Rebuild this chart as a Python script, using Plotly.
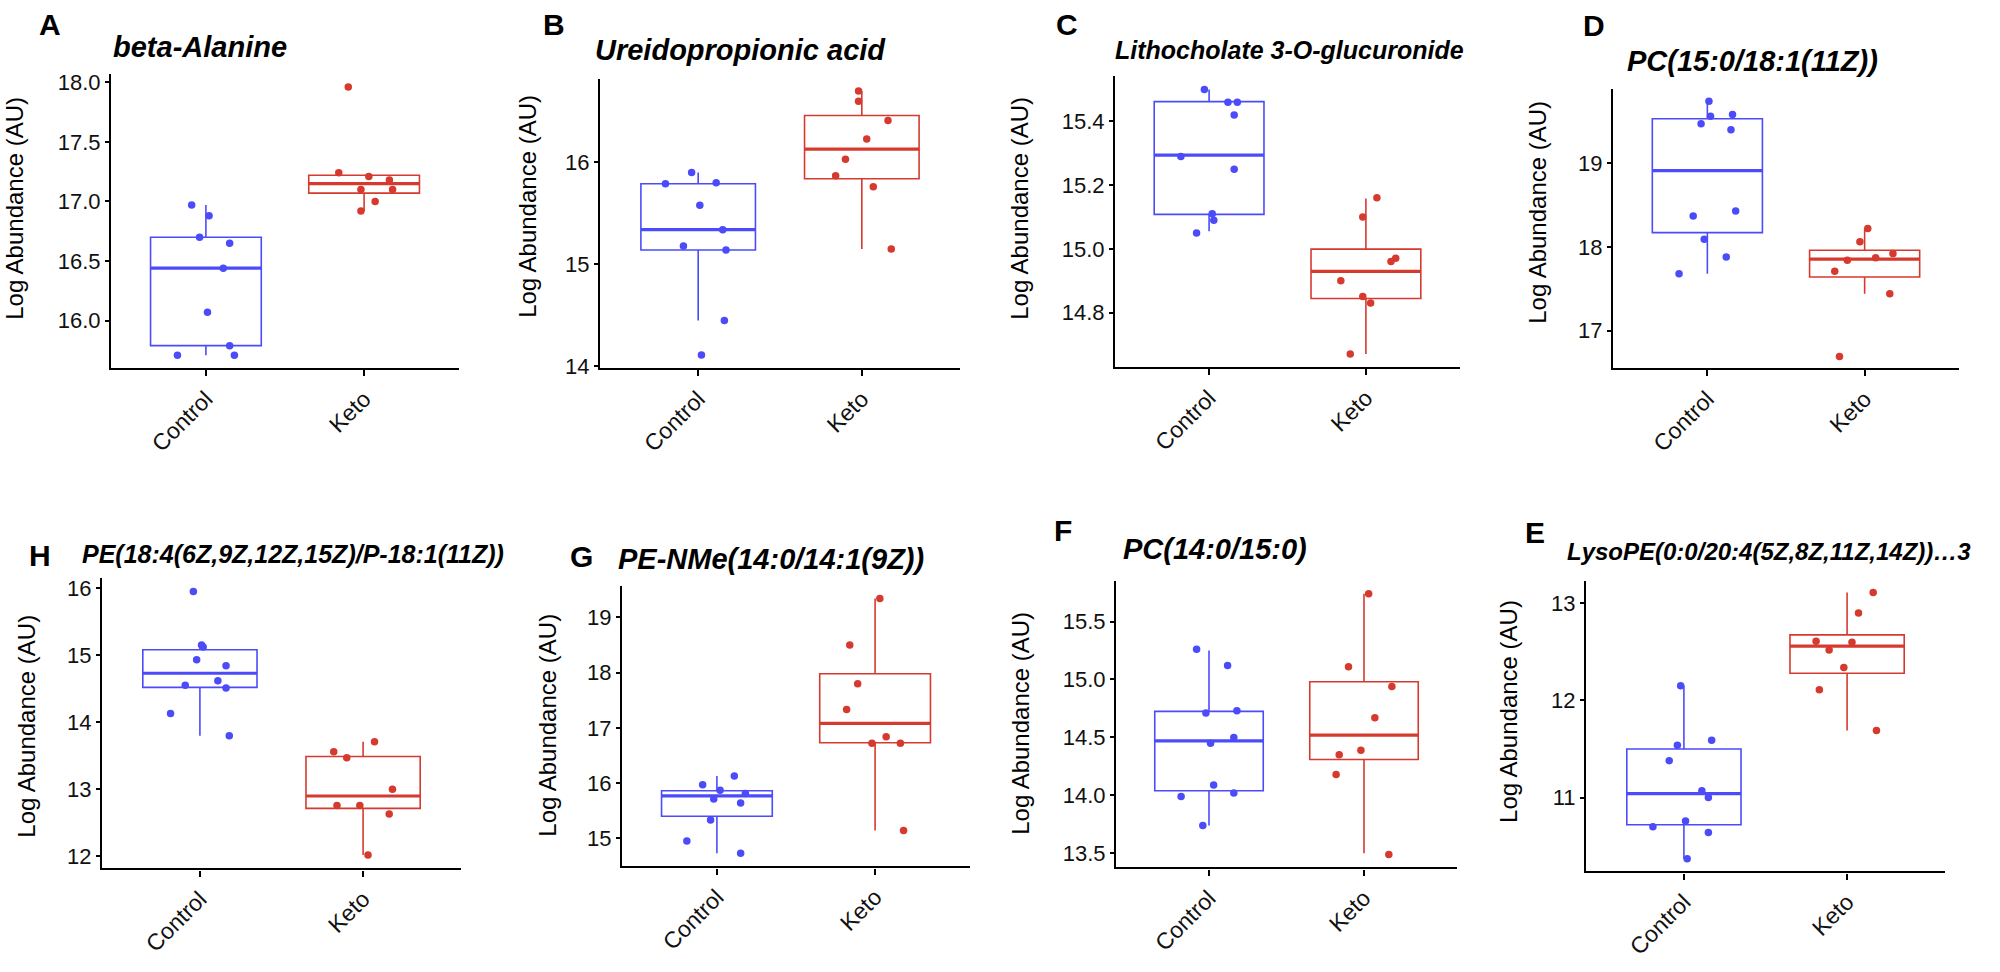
import plotly.graph_objects as go

# ---------------- data ----------------
categories = ["Control", "Keto"]
panel_letters = ["A", "B", "C", "D", "H", "G", "F", "E"]
panel_titles = [
    "beta-Alanine",
    "Ureidopropionic acid",
    "Lithocholate 3-O-glucuronide",
    "PC(15:0/18:1(11Z))",
    "PE(18:4(6Z,9Z,12Z,15Z)/P-18:1(11Z))",
    "PE-NMe(14:0/14:1(9Z))",
    "PC(14:0/15:0)",
    "LysoPE(0:0/20:4(5Z,8Z,11Z,14Z))…3",
]

# individual samples (log abundance) and horizontal jitter offsets
ctrl_A = [16.97, 16.88, 16.70, 16.65, 16.44, 16.07, 15.79, 15.71, 15.71]
ctrl_A_jit = [-0.09, 0.02, -0.04, 0.15, 0.11, 0.01, 0.15, -0.18, 0.18]
keto_A = [17.96, 17.24, 17.21, 17.18, 17.10, 17.10, 17.00, 16.92]
keto_A_jit = [-0.10, -0.16, 0.03, 0.16, -0.02, 0.18, 0.07, -0.02]

ctrl_B = [15.90, 15.79, 15.80, 15.58, 15.34, 15.18, 15.14, 14.45, 14.11]
ctrl_B_jit = [-0.04, -0.20, 0.11, 0.01, 0.15, -0.09, 0.17, 0.16, 0.02]
keto_B = [16.70, 16.60, 16.41, 16.23, 16.03, 15.87, 15.76, 15.15]
keto_B_jit = [-0.02, -0.02, 0.16, 0.03, -0.10, -0.16, 0.07, 0.18]

ctrl_C = [15.50, 15.46, 15.46, 15.42, 15.29, 15.25, 15.11, 15.09, 15.05]
ctrl_C_jit = [-0.03, 0.12, 0.18, 0.16, -0.18, 0.16, 0.02, 0.03, -0.08]
keto_C = [15.16, 15.10, 14.97, 14.96, 14.90, 14.85, 14.83, 14.67]
keto_C_jit = [0.07, -0.02, 0.19, 0.16, -0.16, -0.02, 0.03, -0.10]

ctrl_D = [19.74, 19.56, 19.58, 19.47, 19.40, 18.43, 18.37, 18.09, 17.88, 17.68]
ctrl_D_jit = [0.01, 0.02, 0.16, -0.04, 0.15, 0.18, -0.09, -0.02, 0.12, -0.18]
keto_D = [18.22, 18.06, 17.92, 17.87, 17.84, 17.71, 17.44, 16.69]
keto_D_jit = [0.02, -0.03, 0.18, 0.07, -0.11, -0.19, 0.16, -0.16]

ctrl_H = [15.95, 15.15, 15.12, 14.93, 14.84, 14.55, 14.62, 14.51, 14.13, 13.80]
ctrl_H_jit = [-0.04, 0.01, 0.02, -0.02, 0.16, -0.09, 0.11, 0.16, -0.18, 0.18]
keto_H = [13.71, 13.56, 13.47, 13.00, 12.76, 12.76, 12.63, 12.02]
keto_H_jit = [0.07, -0.18, -0.10, 0.18, -0.16, -0.02, 0.16, 0.03]

ctrl_G = [16.13, 15.97, 15.87, 15.81, 15.71, 15.64, 15.33, 14.95, 14.73]
ctrl_G_jit = [0.11, -0.09, 0.02, 0.18, -0.02, 0.15, -0.04, -0.19, 0.15]
keto_G = [19.34, 18.50, 17.80, 17.33, 16.84, 16.72, 16.72, 15.14]
keto_G_jit = [0.03, -0.16, -0.11, -0.18, 0.07, -0.02, 0.16, 0.18]

ctrl_F = [15.26, 15.12, 14.71, 14.73, 14.45, 14.50, 14.09, 13.99, 14.02, 13.74]
ctrl_F_jit = [-0.08, 0.12, -0.02, 0.18, 0.01, 0.16, 0.03, -0.18, 0.16, -0.04]
keto_F = [15.74, 15.11, 14.94, 14.67, 14.39, 14.35, 14.18, 13.49]
keto_F_jit = [0.03, -0.10, 0.18, 0.07, -0.02, -0.16, -0.18, 0.16]

ctrl_E = [12.15, 11.54, 11.59, 11.38, 11.07, 11.00, 10.76, 10.70, 10.64, 10.37]
ctrl_E_jit = [-0.02, -0.04, 0.17, -0.09, 0.11, 0.15, 0.01, -0.19, 0.15, 0.02]
keto_E = [13.11, 12.90, 12.61, 12.60, 12.52, 12.34, 12.11, 11.69]
keto_E_jit = [0.16, 0.07, -0.19, 0.03, -0.11, -0.02, -0.17, 0.18]

# box statistics: [lower whisker, Q1, median, Q3, upper whisker]
ctrl_A_box = [15.71, 15.79, 16.44, 16.70, 16.97]
keto_A_box = [16.92, 17.07, 17.15, 17.22, 17.22]
ctrl_B_box = [14.45, 15.14, 15.34, 15.79, 15.90]
keto_B_box = [15.15, 15.84, 16.13, 16.46, 16.70]
ctrl_C_box = [15.055, 15.108, 15.294, 15.462, 15.50]
keto_C_box = [14.67, 14.844, 14.929, 14.999, 15.158]
ctrl_D_box = [17.68, 18.17, 18.91, 19.53, 19.74]
keto_D_box = [17.44, 17.64, 17.855, 17.96, 18.22]
ctrl_H_box = [13.80, 14.52, 14.73, 15.08, 15.15]
keto_H_box = [12.02, 12.715, 12.90, 13.49, 13.71]
ctrl_G_box = [14.73, 15.40, 15.77, 15.86, 16.13]
keto_G_box = [15.14, 16.73, 17.08, 17.98, 19.34]
ctrl_F_box = [13.74, 14.04, 14.47, 14.725, 15.25]
keto_F_box = [13.50, 14.31, 14.52, 14.98, 15.74]
ctrl_E_box = [10.37, 10.72, 11.04, 11.50, 12.15]
keto_E_box = [11.69, 12.28, 12.56, 12.675, 13.11]

# y tick values per panel
yticks_A = [16.0, 16.5, 17.0, 17.5, 18.0]
yticks_B = [14, 15, 16]
yticks_C = [14.8, 15.0, 15.2, 15.4]
yticks_D = [17, 18, 19]
yticks_H = [12, 13, 14, 15, 16]
yticks_G = [15, 16, 17, 18, 19]
yticks_F = [13.5, 14.0, 14.5, 15.0, 15.5]
yticks_E = [11, 12, 13]

# ---------------- layout / styling ----------------
W, H = 2000, 972
BLUE = "#4B4BFA"
RED = "#D63A2F"
FONT = "Liberation Sans, Arial, sans-serif"
BOX_W = 0.7

# plot rectangles in pixels: (left, right, top, bottom)
rects = [
    (111, 459, 71, 370), (600, 960, 76, 370), (1115, 1460, 73, 369), (1613, 1959, 86, 370),
    (102, 461, 583, 878), (622, 970, 591, 876), (1116, 1457, 586, 877), (1586, 1945, 586, 881),
]
yranges = [
    (15.60, 18.07), (13.98, 16.82), (14.628, 15.543), (16.55, 19.89),
    (11.82, 16.15), (14.49, 19.57), (13.378, 15.85), (10.24, 13.23),
]
tick_fmt = [".1f", "d", ".1f", "d", "d", "d", ".1f", "d"]
title_sizes = [29, 29, 25, 29, 25, 29, 29, 24]
title_pos = [(111, 44), (593, 47), (1113, 47), (1625, 58), (80, 559), (616, 564), (1121, 554), (1565, 556)]
letter_pos = [(50, 21), (554, 21), (1067, 21), (1594, 22), (40, 560), (581, 561), (1063, 535), (1535, 537)]
ytitle_pos = [(15, 208), (528, 206), (1020, 208), (1538, 212), (27, 734), (548, 733), (1021, 730), (1509, 719)]

data = {
    "A": (ctrl_A, ctrl_A_jit, keto_A, keto_A_jit, ctrl_A_box, keto_A_box, yticks_A),
    "B": (ctrl_B, ctrl_B_jit, keto_B, keto_B_jit, ctrl_B_box, keto_B_box, yticks_B),
    "C": (ctrl_C, ctrl_C_jit, keto_C, keto_C_jit, ctrl_C_box, keto_C_box, yticks_C),
    "D": (ctrl_D, ctrl_D_jit, keto_D, keto_D_jit, ctrl_D_box, keto_D_box, yticks_D),
    "H": (ctrl_H, ctrl_H_jit, keto_H, keto_H_jit, ctrl_H_box, keto_H_box, yticks_H),
    "G": (ctrl_G, ctrl_G_jit, keto_G, keto_G_jit, ctrl_G_box, keto_G_box, yticks_G),
    "F": (ctrl_F, ctrl_F_jit, keto_F, keto_F_jit, ctrl_F_box, keto_F_box, yticks_F),
    "E": (ctrl_E, ctrl_E_jit, keto_E, keto_E_jit, ctrl_E_box, keto_E_box, yticks_E),
}

fig = go.Figure()
annotations = []
layout_axes = {}

for i, letter in enumerate(panel_letters):
    n = i + 1
    xa = "x" if n == 1 else f"x{n}"
    ya = "y" if n == 1 else f"y{n}"
    ctrl, cj, keto, kj, cbox, kbox, yt = data[letter]
    groups = [(0, ctrl, cj, cbox, BLUE), (1, keto, kj, kbox, RED)]
    for pos, vals, jit, bx, col in groups:
        fig.add_trace(go.Box(
            x=[pos], lowerfence=[bx[0]], q1=[bx[1]], median=[bx[2]], q3=[bx[3]], upperfence=[bx[4]],
            width=BOX_W, whiskerwidth=0, boxpoints=False,
            line=dict(color=col, width=1.6), fillcolor="rgba(0,0,0,0)",
            xaxis=xa, yaxis=ya, showlegend=False, hoverinfo="skip",
        ))
        fig.add_trace(go.Scatter(
            x=[pos - BOX_W / 2, pos + BOX_W / 2], y=[bx[2], bx[2]], mode="lines",
            line=dict(color=col, width=3.2), xaxis=xa, yaxis=ya, showlegend=False, hoverinfo="skip",
        ))
        fig.add_trace(go.Scatter(
            x=[pos + j for j in jit], y=vals, mode="markers",
            marker=dict(size=7.5, color=col, line=dict(width=0)),
            xaxis=xa, yaxis=ya, showlegend=False,
        ))

    l, r, t, b = rects[i]
    fmt = tick_fmt[i]
    ticktext = [format(v, fmt) if fmt != "d" else str(int(v)) for v in yt]
    layout_axes["xaxis" if n == 1 else f"xaxis{n}"] = dict(
        domain=[l / W, r / W], anchor=ya, range=[-0.6, 1.6],
        tickvals=[0, 1], ticktext=categories, tickangle=-45,
        showline=True, linecolor="black", linewidth=2.2,
        ticks="outside", ticklen=6, tickwidth=1.6, tickcolor="black",
        showgrid=False, zeroline=False,
        tickfont=dict(family=FONT, size=23, color="#111111"),
    )
    layout_axes["yaxis" if n == 1 else f"yaxis{n}"] = dict(
        domain=[1 - b / H, 1 - t / H], anchor=xa, range=list(yranges[i]),
        tickvals=yt, ticktext=ticktext,
        showline=True, linecolor="black", linewidth=2.2,
        ticks="outside", ticklen=4, tickwidth=1.6, tickcolor="black",
        showgrid=False, zeroline=False,
        tickfont=dict(family=FONT, size=22, color="#111111"),
    )

    tx, ty = title_pos[i]
    annotations.append(dict(
        text=f"<b><i>{panel_titles[i]}</i></b>", x=tx / W, y=1 - ty / H,
        xref="paper", yref="paper", xanchor="left", yanchor="middle", showarrow=False,
        font=dict(family=FONT, size=title_sizes[i], color="black"),
    ))
    lx, ly = letter_pos[i]
    annotations.append(dict(
        text=f"<b>{letter}</b>", x=lx / W, y=1 - ly / H,
        xref="paper", yref="paper", xanchor="center", yanchor="middle", showarrow=False,
        font=dict(family=FONT, size=30, color="black"),
    ))
    ax_, ay_ = ytitle_pos[i]
    annotations.append(dict(
        text="Log Abundance (AU)", x=ax_ / W, y=1 - ay_ / H, textangle=-90,
        xref="paper", yref="paper", xanchor="center", yanchor="middle", showarrow=False,
        font=dict(family=FONT, size=24, color="black"),
    ))

fig.update_layout(
    width=W, height=H, margin=dict(l=0, r=0, t=0, b=0),
    paper_bgcolor="white", plot_bgcolor="white",
    showlegend=False, annotations=annotations, boxmode="overlay",
    **layout_axes,
)

fig.write_html(
    "out.html",
    config={"displayModeBar": False},
    post_script="document.body.style.margin='0';document.body.style.overflow='hidden';",
)
